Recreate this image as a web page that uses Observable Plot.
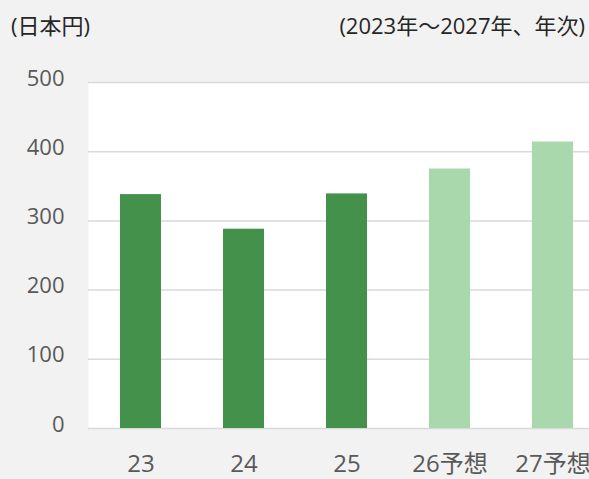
<!DOCTYPE html>
<html>
<head>
<meta charset="utf-8">
<script src="https://cdn.jsdelivr.net/npm/d3@7"></script>
<script src="https://cdn.jsdelivr.net/npm/@observablehq/plot@0.6"></script>
<style>
  html, body { margin: 0; padding: 0; background: #f2f2f2; overflow: hidden; width: 589px; height: 479px; }
  #wrap { position: relative; width: 589px; height: 479px; overflow: hidden; font-family: "Open Sans", "Noto Sans CJK JP", sans-serif; }
  .t { position: absolute; color: #262626; font-size: 22px; white-space: nowrap; line-height: 1; }
  #tl { left: 11px; top: 14px; }
  #tr { right: 4px; top: 14px; }
  #wrap svg { position: absolute; left: 0; top: 0; max-width: none !important; }
</style>
</head>
<body>
<div id="wrap">
  <div class="t" id="tl">(日本円)</div>
  <div class="t" id="tr">(2023年～2027年、年次)</div>
</div>
<script>
const years = ["23", "24", "25", "26予想", "27予想"];
const values = [338, 288, 339, 375, 414];
const kinds = ["実績", "実績", "実績", "予想", "予想"];
const yTicks = [0, 100, 200, 300, 400, 500];
const kindColors = ["#43914a", "#aad8ad"];

const data = years.map((y, i) => ({year: y, value: values[i], kind: kinds[i]}));

const chart = Plot.plot({
  width: 606,
  height: 479,
  marginTop: 82,
  marginBottom: 51,
  marginLeft: 88,
  marginRight: 0,
  style: {background: "transparent", color: "#595959", maxWidth: "none", fontFamily: "\"Open Sans\", \"Noto Sans CJK JP\", sans-serif"},
  x: {domain: years, paddingInner: 0.6, paddingOuter: 0.3, label: null},
  y: {domain: [0, 500], label: null},
  color: {domain: ["実績", "予想"], range: kindColors},
  marks: [
    Plot.frame({fill: "white", stroke: null}),
    Plot.ruleY(yTicks, {stroke: "#d9d9d9", strokeWidth: 1.5}),
    Plot.barY(data, {x: "year", y: "value", fill: "kind"}),
    Plot.axisY({ticks: yTicks, tickSize: 0, tickPadding: 24, fontSize: 22, dy: -4, label: null}),
    Plot.axisX({tickSize: 0, tickPadding: 26, fontSize: 24, label: null})
  ]
});
document.getElementById("wrap").prepend(chart);
</script>
</body>
</html>
